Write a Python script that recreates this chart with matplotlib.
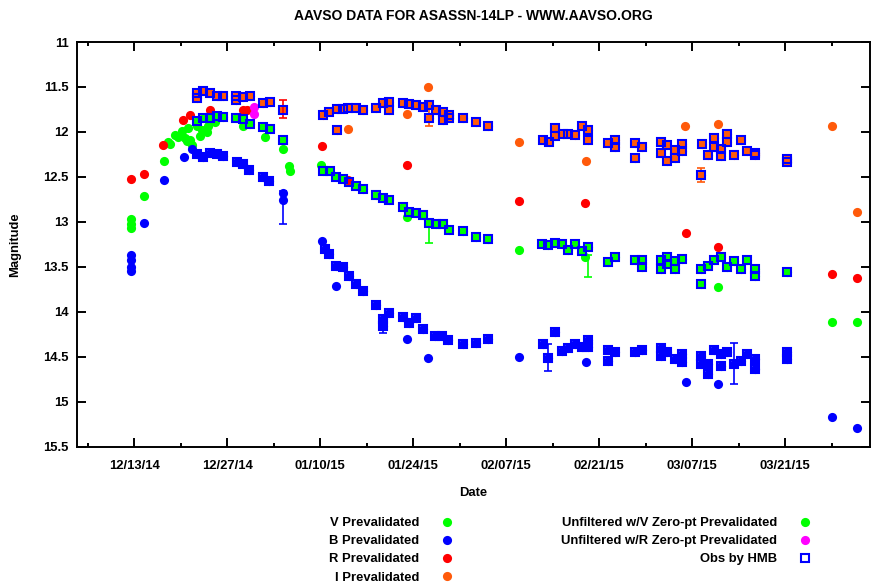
import datetime as dt
import matplotlib
matplotlib.use("Agg")
import matplotlib.pyplot as plt
import matplotlib.dates as mdates
from matplotlib import font_manager as fm
from matplotlib.ticker import FuncFormatter, MultipleLocator

# ---------------- data (days after 2014-12-13 00:00 UT, magnitude) ----------------
v_days = [-0.45, -0.45, -0.45, 1.55, 4.56, 5.16, 5.4, 6.17, 6.6, 7.18, 7.68, 7.9, 8.17, 8.43,
          8.7, 9.44, 9.9, 10.19, 10.9, 11.18, 12.19, 16.45, 19.72, 22.47, 28.15, 41.05,
          58.0, 67.89, 105.03, 108.79]
v_mags = [12.97, 13.02, 13.07, 12.71, 12.32, 12.11, 12.14, 12.03, 12.06, 11.99, 12.07, 12.10, 11.96, 12.09,
          12.15, 11.93, 12.05, 11.98, 12.00, 11.93, 11.89, 11.94, 12.06, 12.19, 12.37, 12.95,
          13.31, 13.39, 14.11, 14.12]

b_days = [-0.45, -0.45, -0.45, -0.45, 1.55, 4.56, 7.57, 8.69, 22.47, 22.47, 28.26, 30.41,
          41.14, 44.30, 58.0, 68.0, 83.05, 87.87, 105.03, 108.79]
b_mags = [13.37, 13.42, 13.50, 13.55, 13.01, 12.54, 12.28, 12.19, 12.68, 12.76, 13.21, 13.71,
          14.30, 14.52, 14.50, 14.56, 14.78, 14.80, 15.17, 15.29]

r_days = [-0.45, 1.55, 4.41, 7.42, 8.43, 11.44, 16.45, 16.97, 28.26, 32.26, 41.14, 58.0,
          67.89, 83.05, 87.87, 105.03, 108.79]
r_mags = [12.52, 12.47, 12.15, 11.87, 11.81, 11.76, 11.76, 11.76, 12.16, 12.54, 12.37, 12.77,
          12.79, 13.13, 13.28, 13.58, 13.62]

i_days = [32.26, 41.05, 44.21, 58.0, 68.0, 82.94, 87.87, 105.03, 108.79]
i_mags = [11.97, 11.80, 11.50, 12.11, 12.32, 11.94, 11.91, 11.93, 12.89]

cv_days = [23.38, 23.48, 87.87]
cv_mags = [12.38, 12.44, 13.73]

cr_days = [18.06, 18.06]
cr_mags = [11.72, 11.80]

# observations by HMB (drawn in their band colour, then boxed)
hmb_v_days = [9.44, 10.43, 11.44, 12.45, 13.44, 15.35, 16.45, 17.46, 19.37, 20.47, 22.38,
              28.50, 29.50, 30.41, 31.42, 32.41, 33.42, 34.43, 36.43, 37.44, 38.43, 40.45,
              41.44, 42.45, 43.46, 44.45, 45.46, 46.47, 47.46, 49.48, 51.48, 53.33,
              61.37, 62.37, 63.38, 64.38, 65.38, 66.39, 67.39, 68.39, 71.40, 72.41,
              75.42, 76.43, 76.43, 79.29, 79.29, 80.28, 80.28, 81.44, 81.44, 82.45,
              85.35, 85.35, 86.36, 87.31, 88.32, 89.31, 90.32, 91.33, 92.33, 93.48, 93.48, 98.34]
hmb_v_mags = [11.88, 11.85, 11.85, 11.82, 11.83, 11.84, 11.86, 11.91, 11.95, 11.97, 12.09,
              12.43, 12.43, 12.50, 12.52, 12.56, 12.60, 12.63, 12.70, 12.74, 12.76, 12.84,
              12.89, 12.90, 12.93, 13.01, 13.02, 13.02, 13.09, 13.10, 13.17, 13.19,
              13.25, 13.26, 13.24, 13.25, 13.31, 13.25, 13.32, 13.28, 13.45, 13.39,
              13.43, 13.42, 13.50, 13.42, 13.52, 13.39, 13.47, 13.44, 13.52, 13.41,
              13.53, 13.69, 13.49, 13.43, 13.39, 13.50, 13.44, 13.52, 13.43, 13.52, 13.60, 13.56]

hmb_b_days = [9.44, 10.43, 11.44, 12.45, 13.44, 15.55, 16.45, 17.36, 19.46, 20.37,
              28.75, 29.40, 30.41, 31.42, 32.41, 33.42, 34.43, 36.43, 37.44, 37.44, 38.43,
              40.45, 41.44, 42.45, 43.46, 45.31, 46.32, 47.31, 49.48, 51.48, 53.33,
              61.52, 62.37, 63.38, 64.38, 65.38, 66.39, 67.39, 68.39, 68.39, 71.40, 71.40,
              72.41, 75.42, 76.43, 79.29, 79.29, 80.28, 81.44, 82.45, 82.45, 85.35, 85.35,
              86.36, 86.36, 87.31, 88.32, 88.32, 89.31, 90.32, 91.33, 92.33, 93.48, 93.48,
              98.34, 98.34]
hmb_b_mags = [12.25, 12.28, 12.23, 12.25, 12.27, 12.34, 12.36, 12.42, 12.50, 12.55,
              13.30, 13.36, 13.49, 13.50, 13.60, 13.69, 13.77, 13.93, 14.08, 14.16, 14.01,
              14.06, 14.13, 14.07, 14.19, 14.27, 14.27, 14.32, 14.36, 14.35, 14.30,
              14.36, 14.51, 14.23, 14.44, 14.40, 14.36, 14.39, 14.32, 14.39, 14.43, 14.55,
              14.45, 14.45, 14.43, 14.40, 14.49, 14.45, 14.53, 14.47, 14.56, 14.49, 14.58,
              14.58, 14.69, 14.43, 14.47, 14.60, 14.45, 14.58, 14.55, 14.47, 14.53, 14.64,
              14.45, 14.53]

hmb_i_days = [9.44, 9.44, 10.43, 11.44, 12.45, 13.44, 15.35, 15.35, 16.45, 17.46, 19.37, 20.47, 22.38,
              28.50, 29.40, 30.51, 30.51, 31.51, 32.26, 33.42, 34.43, 36.43, 37.44, 38.43, 38.43,
              40.45, 41.44, 42.45, 43.46, 44.45, 44.45, 45.46, 46.47, 46.47, 47.46, 47.46,
              49.48, 51.48, 53.33, 61.61, 62.52, 63.38, 63.38, 64.53, 65.38, 66.39, 67.39,
              68.39, 68.39, 71.40, 72.41, 72.41, 75.42, 75.42, 76.43, 79.29, 79.29, 80.28,
              80.28, 81.44, 81.44, 82.45, 82.45, 85.46, 85.35, 86.45, 87.31, 87.31, 88.32,
              88.32, 89.31, 89.31, 90.32, 91.33, 92.33, 93.48, 93.48, 98.34, 98.34]
hmb_i_mags = [11.57, 11.62, 11.55, 11.57, 11.60, 11.60, 11.60, 11.64, 11.61, 11.60, 11.68, 11.67, 11.76,
              11.81, 11.78, 11.74, 11.98, 11.75, 11.73, 11.73, 11.76, 11.73, 11.68, 11.67, 11.76,
              11.68, 11.69, 11.70, 11.72, 11.70, 11.84, 11.76, 11.78, 11.87, 11.81, 11.84,
              11.85, 11.89, 11.94, 12.09, 12.11, 11.96, 12.05, 12.02, 12.02, 12.04, 11.94,
              11.98, 12.09, 12.12, 12.09, 12.17, 12.12, 12.29, 12.17, 12.11, 12.23, 12.15,
              12.32, 12.20, 12.29, 12.13, 12.21, 12.13, 12.48, 12.26, 12.07, 12.17, 12.19,
              12.27, 12.02, 12.11, 12.26, 12.09, 12.21, 12.23, 12.26, 12.30, 12.34]

# a few measurements with visible error bars: (band, day, mag, error)
err_band = ["R", "V", "B", "B", "V", "B", "I", "B", "I"]
err_days = [22.38, 44.45, 22.47, 37.44, 68.39, 62.37, 85.35, 90.32, 44.45]
err_mags = [11.74, 13.13, 12.84, 14.16, 13.49, 14.51, 12.48, 14.58, 11.84]
err_size = [0.10, 0.11, 0.18, 0.08, 0.12, 0.15, 0.08, 0.23, 0.09]

legend_left = ["V Prevalidated", "B Prevalidated", "R Prevalidated", "I Prevalidated"]
legend_right = ["Unfiltered w/V Zero-pt Prevalidated", "Unfiltered w/R Zero-pt Prevalidated", "Obs by HMB"]
title = "AAVSO DATA FOR ASASSN-14LP - WWW.AAVSO.ORG"

# ---------------- style ----------------
names = {f.name for f in fm.fontManager.ttflist}
if "Liberation Sans Narrow" in names:
    FAM, FS = "Liberation Sans Narrow", 11.3
else:
    FAM, FS = "Liberation Sans", 9.4
plt.rcParams["font.family"] = [FAM, "DejaVu Sans"]
plt.rcParams["font.weight"] = "bold"

COL = {"V": "#00ff00", "B": "#0000ff", "R": "#ff0000", "I": "#ff5a0a",
       "CV": "#00ff00", "CR": "#ff00ff", "HMB": "#0000ff"}
MS = 6.6

W, H = 873, 586
fig = plt.figure(figsize=(W / 100, H / 100), dpi=100)
L, R_, T, B_ = 77, 870, 42, 446.5
ax = fig.add_axes([L / W, 1 - B_ / H, (R_ - L) / W, (B_ - T) / H])

base = mdates.date2num(dt.datetime(2014, 12, 13))


def X(days):
    return [base + d for d in days]


def circ(days, mags, col, z):
    ax.plot(X(days), mags, ls="none", marker="o", ms=MS, mfc=col, mec=col, mew=0, zorder=z)


circ(v_days, v_mags, COL["V"], 3)
circ(hmb_v_days, hmb_v_mags, COL["V"], 3)
circ(b_days, b_mags, COL["B"], 3.1)
circ(hmb_b_days, hmb_b_mags, COL["B"], 3.1)
circ(r_days, r_mags, COL["R"], 3.2)
circ(i_days, i_mags, COL["I"], 3.3)
circ(hmb_i_days, hmb_i_mags, COL["I"], 3.3)
circ(cv_days, cv_mags, COL["CV"], 3.4)
circ(cr_days, cr_mags, COL["CR"], 3.5)

for bnd, d, m, e in zip(err_band, err_days, err_mags, err_size):
    ax.errorbar(X([d]), [m], yerr=[e], fmt="none", ecolor=COL[bnd], elinewidth=1.2,
                capsize=3, capthick=1.2, zorder=3.6)

for dd, mm in ((hmb_v_days, hmb_v_mags), (hmb_b_days, hmb_b_mags), (hmb_i_days, hmb_i_mags)):
    ax.plot(X(dd), mm, ls="none", marker="s", ms=6.0, mfc="none", mec=COL["HMB"], mew=1.5, zorder=4)

# axes
ax.set_xlim(base - 8.6, base + 110.77)
ax.set_ylim(15.5, 11)
ax.set_xticks([base + 14 * k for k in range(8)])
ax.set_xticks([base - 7 + 14 * k for k in range(9)], minor=True)
ax.xaxis.set_major_formatter(mdates.DateFormatter("%m/%d/%y"))
ax.yaxis.set_major_locator(MultipleLocator(0.5))
ax.yaxis.set_major_formatter(FuncFormatter(lambda v, p: "%g" % v))

ax.tick_params(which="both", direction="in", top=True, right=True, width=1.4, labelsize=FS,
               colors="black")
ax.tick_params(which="major", length=6.5)
ax.tick_params(which="minor", length=3.2)
ax.tick_params(axis="x", which="major", pad=9.5)
ax.tick_params(axis="y", which="major", pad=6)
for s in ax.spines.values():
    s.set_linewidth(1.4)

ax.set_title(title, fontsize=FS + 0.6, pad=15.5, fontweight="bold")
ax.set_xlabel("Date", fontsize=FS, labelpad=11, fontweight="bold")
ax.set_ylabel("Magnitude", fontsize=FS, labelpad=16, fontweight="bold")

# legends
fs_px = FS * 100 / 72
handles_l = [plt.Line2D([], [], ls="none", marker="o", ms=MS, mfc=COL[k], mec=COL[k], mew=0)
             for k in ("V", "B", "R", "I")]
handles_r = [plt.Line2D([], [], ls="none", marker="o", ms=MS, mfc=COL["CV"], mec=COL["CV"], mew=0),
             plt.Line2D([], [], ls="none", marker="o", ms=MS, mfc=COL["CR"], mec=COL["CR"], mew=0),
             plt.Line2D([], [], ls="none", marker="s", ms=6.0, mfc="none", mec=COL["HMB"], mew=1.5)]
common = dict(loc="upper right", frameon=False, markerfirst=False, borderpad=0, borderaxespad=0,
              handlelength=1.0, handletextpad=(28 - fs_px / 2) / fs_px, labelspacing=0.46,
              prop={"family": [FAM, "DejaVu Sans"], "weight": "bold", "size": FS})
top = 1 - 517.0 / H
fig.legend(handles_l, legend_left, bbox_to_anchor=((447 + fs_px / 2) / W, top), **common)
fig.legend(handles_r, legend_right, bbox_to_anchor=((805 + fs_px / 2) / W, top), **common)

fig.savefig("out.png", dpi=100)
